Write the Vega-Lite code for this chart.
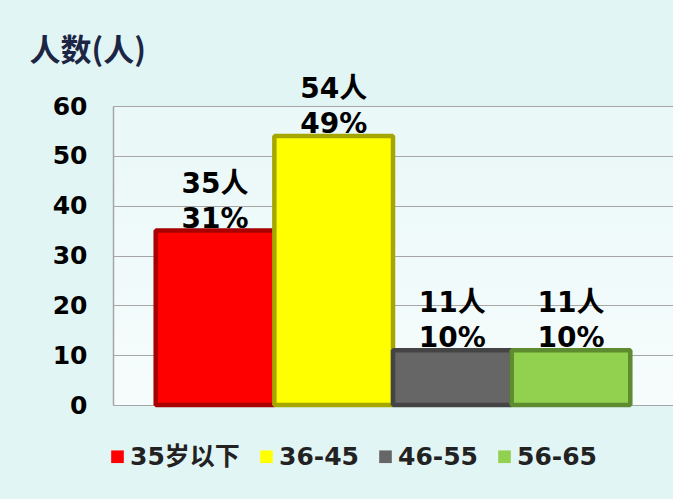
{
  "$schema": "https://vega.github.io/schema/vega-lite/v6.json",
  "width": 560,
  "height": 299,
  "autosize": "none",
  "padding": {"left": 113, "top": 106, "right": 0, "bottom": 94},
  "background": "#e2f5f5",
  "config": {
    "view": {
      "stroke": null,
      "fill": {"gradient": "linear", "x1": 0, "y1": 0, "x2": 0, "y2": 1,
        "stops": [{"offset": 0, "color": "#eaf8f8"}, {"offset": 1, "color": "#f6fcfc"}]}
    },
    "font": "DejaVu Sans, Noto Sans CJK SC"
  },
  "data": {
    "values": [
      {"group": "35岁以下", "count": 35, "count_label": "35人", "pct_label": "31%"},
      {"group": "36-45", "count": 54, "count_label": "54人", "pct_label": "49%"},
      {"group": "46-55", "count": 11, "count_label": "11人", "pct_label": "10%"},
      {"group": "56-65", "count": 11, "count_label": "11人", "pct_label": "10%"}
    ]
  },
  "encoding": {
    "x": {
      "field": "group",
      "type": "nominal",
      "sort": null,
      "scale": {"paddingInner": 0, "paddingOuter": 0.36},
      "axis": null
    },
    "y": {
      "field": "count",
      "type": "quantitative",
      "scale": {"domain": [0, 60]},
      "axis": {
        "values": [0, 10, 20, 30, 40, 50, 60],
        "title": "人数(人)",
        "titleAngle": 0,
        "titleX": -84,
        "titleY": -46,
        "titleAlign": "left",
        "titleBaseline": "alphabetic",
        "titleFontSize": 31,
        "titleFontWeight": "bold",
        "titleColor": "#1c2644",
        "titleFont": "Noto Sans CJK SC, DejaVu Sans",
        "labelFontSize": 25,
        "labelFontWeight": "bold",
        "labelColor": "#000000",
        "labelFont": "DejaVu Sans",
        "labelPadding": 26,
        "ticks": false,
        "domain": true,
        "domainColor": "#a6a6a6",
        "domainWidth": 1.5,
        "grid": true,
        "gridColor": "#a6a6a6",
        "gridOpacity": 1,
        "gridWidth": 1.2
      }
    }
  },
  "layer": [
    {
      "mark": {"type": "bar", "strokeWidth": 4.5, "strokeJoin": "bevel"},
      "encoding": {
        "color": {
          "field": "group",
          "type": "nominal",
          "sort": null,
          "scale": {"range": ["#ff0000", "#ffff00", "#666666", "#92d050"]},
          "legend": {
            "orient": "none",
            "legendX": -8,
            "legendY": 338,
            "direction": "horizontal",
            "title": null,
            "padding": 0,
            "symbolType": "square",
            "symbolSize": 160,
            "symbolStrokeWidth": 0,
            "labelFontSize": 25,
            "labelFontWeight": "bold",
            "labelColor": "#222222",
            "labelFont": "DejaVu Sans, Noto Sans CJK SC",
            "labelOffset": 0,
            "columnPadding": 14
          }
        },
        "stroke": {
          "field": "group",
          "type": "nominal",
          "sort": null,
          "scale": {"range": ["#a80000", "#a6a600", "#444444", "#5e8a30"]},
          "legend": null
        }
      }
    },
    {
      "mark": {"type": "text", "baseline": "alphabetic", "dy": -3, "fontSize": 28, "fontWeight": "bold", "color": "#000000"},
      "encoding": {"text": {"field": "pct_label", "type": "nominal"}}
    },
    {
      "mark": {"type": "text", "baseline": "alphabetic", "dy": -38, "fontSize": 28, "fontWeight": "bold", "color": "#000000"},
      "encoding": {"text": {"field": "count_label", "type": "nominal"}}
    }
  ]
}
